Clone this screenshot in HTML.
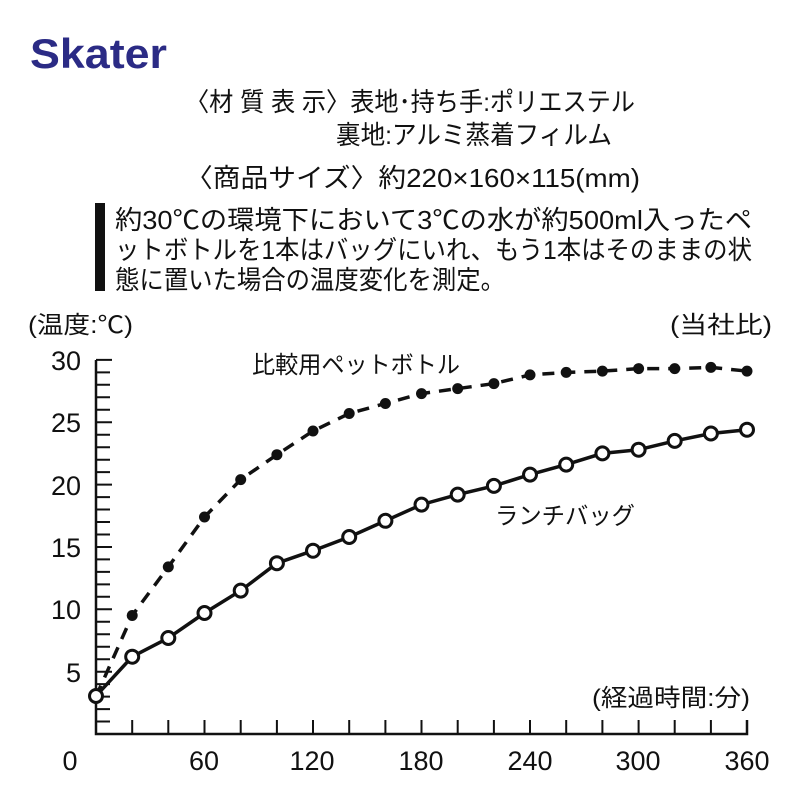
<!DOCTYPE html>
<html><head><meta charset="utf-8"><style>body{margin:0;background:#fff}svg{display:block}</style></head><body>
<svg width="800" height="800" xmlns="http://www.w3.org/2000/svg" font-family="'Liberation Sans','Noto Sans CJK JP',sans-serif">
<text x="30" y="68" font-size="42" font-weight="bold" fill="#2b2b85" textLength="137" lengthAdjust="spacingAndGlyphs">Skater</text>
<g font-size="26" fill="#111">
<text x="185" y="111" textLength="450" lengthAdjust="spacingAndGlyphs">〈材 質 表 示〉表地･持ち手:ポリエステル</text>
<text x="336" y="144" textLength="276" lengthAdjust="spacingAndGlyphs">裏地:アルミ蒸着フィルム</text>
<text x="185" y="187" textLength="455" lengthAdjust="spacingAndGlyphs">〈商品サイズ〉約220×160×115(mm)</text>
<text x="115" y="229" textLength="637" lengthAdjust="spacingAndGlyphs">約30℃の環境下において3℃の水が約500ml入ったペ</text>
<text x="115" y="259" textLength="637" lengthAdjust="spacingAndGlyphs">ットボトルを1本はバッグにいれ、もう1本はそのままの状</text>
<text x="115" y="289" textLength="390" lengthAdjust="spacingAndGlyphs">態に置いた場合の温度変化を測定。</text>
</g>
<rect x="95" y="203" width="10" height="88" fill="#111"/>
<g font-size="24" fill="#111">
<text x="28" y="333" textLength="105" lengthAdjust="spacingAndGlyphs">(温度:℃)</text>
<text x="670" y="333" textLength="102" lengthAdjust="spacingAndGlyphs">(当社比)</text>
<text x="252" y="373" textLength="208" lengthAdjust="spacingAndGlyphs">比較用ペットボトル</text>
<text x="495" y="524" textLength="140" lengthAdjust="spacingAndGlyphs">ランチバッグ</text>
<text x="592" y="706" textLength="158" lengthAdjust="spacingAndGlyphs">(経過時間:分)</text>
</g>
<g font-size="27" fill="#111" text-anchor="end">
<text x="81" y="370">30</text><text x="81" y="432">25</text><text x="81" y="495">20</text><text x="81" y="557">15</text><text x="81" y="619">10</text><text x="81" y="682">5</text>
</g>
<g font-size="27" fill="#111" text-anchor="middle">
<text x="70" y="770">0</text><text x="204" y="770">60</text><text x="312" y="770">120</text><text x="421" y="770">180</text><text x="530" y="770">240</text><text x="638" y="770">300</text><text x="747" y="770">360</text>
</g>
<path d="M96 360V734H747V720" stroke="#111" stroke-width="2.5" fill="none"/>
<path stroke="#111" stroke-width="2" fill="none" d="M96 721.5h14M96 709.1h14M96 696.6h14M96 684.1h14M96 671.7h16M96 659.2h14M96 646.7h14M96 634.2h14M96 621.8h14M96 609.3h16M96 596.8h14M96 584.4h14M96 571.9h14M96 559.4h14M96 547h16M96 534.5h14M96 522h14M96 509.5h14M96 497.1h14M96 484.6h16M96 472.1h14M96 459.7h14M96 447.2h14M96 434.7h14M96 422.3h16M96 409.8h14M96 397.3h14M96 384.8h14M96 372.4h14M96 359.9h16
M132.2 734v-14M168.3 734v-14M204.5 734v-14M240.7 734v-14M276.9 734v-14M313 734v-14M349.2 734v-14M385.4 734v-14M421.5 734v-14M457.7 734v-14M493.9 734v-14M530 734v-14M566.2 734v-14M602.4 734v-14M638.6 734v-14M674.7 734v-14M710.9 734v-14"/>
<polyline fill="none" stroke="#111" stroke-width="3.5" stroke-dasharray="12 9" points="96,696.6 132.2,615.5 168.3,566.9 204.5,517 240.7,479.6 276.9,454.7 313,431 349.2,413.5 385.4,403.5 421.5,393.6 457.7,388.6 493.9,383.6 530,374.9 566.2,372.4 602.4,371.1 638.6,368.6 674.7,368.6 710.9,367.4 747,371.1"/>
<polyline fill="none" stroke="#111" stroke-width="3.5" points="96,696 132.2,656.7 168.3,638 204.5,613 240.7,590.6 276.9,563.2 313,550.7 349.2,537 385.4,520.8 421.5,504.6 457.7,494.6 493.9,485.9 530,474.6 566.2,464.6 602.4,453.4 638.6,449.7 674.7,440.9 710.9,433.5 747,429.7"/>
<g fill="#111">
<circle cx="132.2" cy="615.5" r="5.5"/><circle cx="168.3" cy="566.9" r="5.5"/><circle cx="204.5" cy="517" r="5.5"/><circle cx="240.7" cy="479.6" r="5.5"/><circle cx="276.9" cy="454.7" r="5.5"/><circle cx="313" cy="431" r="5.5"/><circle cx="349.2" cy="413.5" r="5.5"/><circle cx="385.4" cy="403.5" r="5.5"/><circle cx="421.5" cy="393.6" r="5.5"/><circle cx="457.7" cy="388.6" r="5.5"/><circle cx="493.9" cy="383.6" r="5.5"/><circle cx="530" cy="374.9" r="5.5"/><circle cx="566.2" cy="372.4" r="5.5"/><circle cx="602.4" cy="371.1" r="5.5"/><circle cx="638.6" cy="368.6" r="5.5"/><circle cx="674.7" cy="368.6" r="5.5"/><circle cx="710.9" cy="367.4" r="5.5"/><circle cx="747" cy="371.1" r="5.5"/>
</g>
<g fill="#fff" stroke="#111" stroke-width="3">
<circle cx="96" cy="696" r="6.5"/><circle cx="132.2" cy="656.7" r="6.5"/><circle cx="168.3" cy="638" r="6.5"/><circle cx="204.5" cy="613" r="6.5"/><circle cx="240.7" cy="590.6" r="6.5"/><circle cx="276.9" cy="563.2" r="6.5"/><circle cx="313" cy="550.7" r="6.5"/><circle cx="349.2" cy="537" r="6.5"/><circle cx="385.4" cy="520.8" r="6.5"/><circle cx="421.5" cy="504.6" r="6.5"/><circle cx="457.7" cy="494.6" r="6.5"/><circle cx="493.9" cy="485.9" r="6.5"/><circle cx="530" cy="474.6" r="6.5"/><circle cx="566.2" cy="464.6" r="6.5"/><circle cx="602.4" cy="453.4" r="6.5"/><circle cx="638.6" cy="449.7" r="6.5"/><circle cx="674.7" cy="440.9" r="6.5"/><circle cx="710.9" cy="433.5" r="6.5"/><circle cx="747" cy="429.7" r="6.5"/>
</g>
</svg>
</body></html>
